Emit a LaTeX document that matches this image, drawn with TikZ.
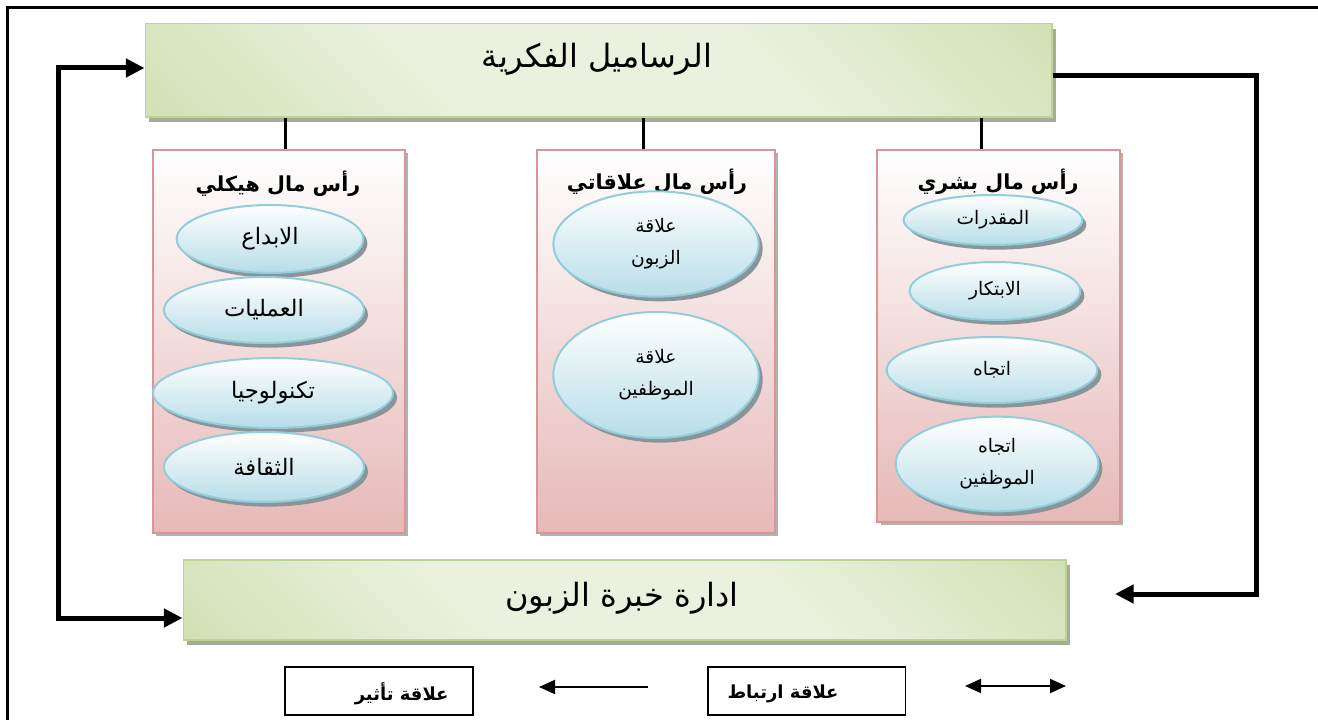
\documentclass[tikz,border=0pt]{standalone}
\usepackage{fontspec}
\newfontfamily\arabicfont[Script=Arabic]{DejaVu Sans}
\TeXXeTstate=1
\usetikzlibrary{shapes.geometric,arrows.meta,shadows,calc}

\definecolor{greendark}{HTML}{C3D69B}
\definecolor{greenlight}{HTML}{EBF1DE}
\definecolor{greenline}{HTML}{BDD392}
\definecolor{greenshadow}{HTML}{A6AC98}
\definecolor{pinkline}{HTML}{D99694}
\definecolor{pinkfill}{HTML}{E6B9B8}
\definecolor{blueline}{HTML}{92CDDC}
\definecolor{bluefill}{HTML}{B7DDE8}
\definecolor{ovalshadow}{HTML}{8A9599}

\pgfdeclareverticalshading{greenband}{100bp}{color(0bp)=(greendark); color(38bp)=(greenlight); color(62bp)=(greenlight); color(100bp)=(greendark)}

\tikzset{every picture/.style={line width=0.75pt}}
\tikzset{
  bigbox/.style={rectangle, draw=greenline, line width=1pt, shading=greenband, shading angle=-45,
    drop shadow={shadow xshift=3pt, shadow yshift=-4pt, fill=greenshadow, opacity=1}},
  bigtext/.style={inner sep=0pt, font=\arabicfont\fontsize{24}{28}\selectfont},
  colbox/.style={rectangle, draw=pinkline, line width=1.5pt, top color=white, bottom color=pinkfill,
    drop shadow={shadow xshift=2.5pt, shadow yshift=-2.5pt, fill=gray!60, opacity=1}},
  coltitle/.style={inner sep=0.75pt, font=\arabicfont\bfseries\fontsize{15.5}{18}\selectfont},
  oval/.style={ellipse, draw=blueline, line width=1.5pt, top color=white, bottom color=bluefill,
    inner sep=0pt, align=center,
    drop shadow={shadow xshift=3pt, shadow yshift=-3.5pt, fill=ovalshadow, opacity=1},
    font=\arabicfont\fontsize{14}{24}\selectfont},
  bigoval/.style={oval, font=\arabicfont\fontsize{17}{24}\selectfont},
  legbox/.style={rectangle, draw, line width=1pt, minimum width=141pt, minimum height=36pt, inner sep=0pt},
  legtext/.style={inner sep=0.75pt, font=\arabicfont\bfseries\fontsize{13.5}{16}\selectfont},
  fat/.style={line width=3.75pt},
  stub/.style={line width=2.25pt},
  thin/.style={line width=1.5pt}
}

\begin{document}
\begin{tikzpicture}[x=0.75pt,y=0.75pt,yscale=-1]
\useasboundingbox (0,0) rectangle (1318,720);

%Frame
\draw [line width=2.25pt]   (1318,8) -- (7,8) -- (7,720) ;

%Rectangle top
\node [bigbox, minimum width=680pt, minimum height=70pt] (fikr) at (598.5,70.5) {};
% Text Node
\node [bigtext] (fikrtext) at (597,59) {\beginR الرساميل الفكرية\endR};
%Rectangle bottom
\node [bigbox, minimum width=662pt, minimum height=60pt] (khibra) at (624.5,600) {};
% Text Node
\node [bigtext] (khibratext) at (622,598) {\beginR ادارة خبرة الزبون\endR};

%Columns
\node [colbox, minimum width=189pt, minimum height=287pt] (hayk) at (279,341.5) {};
\node [colbox, minimum width=178.5pt, minimum height=287pt] (alaq) at (656,341.5) {};
\node [colbox, minimum width=182pt, minimum height=279pt] (bashar) at (998.5,336) {};

% Text Node
\node [coltitle] (haykt) at (278,184) {\beginR رأس مال هيكلي\endR};
\node [coltitle] (alaqt) at (657,182) {\beginR رأس مال علاقاتي\endR};
\node [coltitle] (bashart) at (998,182) {\beginR رأس مال بشري\endR};

%Ellipse
\node [bigoval, minimum width=140pt, minimum height=51pt] (ibda) at (270,239) {\beginR الابداع\endR};
\node [bigoval, minimum width=150pt, minimum height=49.5pt] (amal) at (264,310) {\beginR العمليات\endR};
\node [bigoval, minimum width=180pt, minimum height=52.5pt] (tech) at (273,393) {\beginR تكنولوجيا\endR};
\node [bigoval, minimum width=150pt, minimum height=52.5pt] (thaq) at (264,467) {\beginR الثقافة\endR};

\node [oval, minimum width=154pt, minimum height=79pt] (zab) at (656,244) {\beginR علاقة\endR\\\beginR الزبون\endR};
\node [oval, minimum width=154pt, minimum height=94.5pt] (muw) at (656,375) {\beginR علاقة\endR\\\beginR الموظفين\endR};

\node [oval, minimum width=134pt, minimum height=37.5pt] (qudr) at (993,220) {\beginR المقدرات\endR};
\node [oval, minimum width=128pt, minimum height=43.5pt] (ibtk) at (995,291) {\beginR الابتكار\endR};
\node [oval, minimum width=158pt, minimum height=49.5pt] (itij) at (992,370) {\beginR اتجاه\endR};
\node [oval, minimum width=152pt, minimum height=71pt] (itmw) at (997,464) {\beginR اتجاه\endR\\\beginR الموظفين\endR};

%Straight Lines
\path ([xshift=4.5pt]hayk.north) coordinate (s1) ([xshift=-9.75pt]alaq.north) coordinate (s2) ([xshift=-12.4pt]bashar.north) coordinate (s3);
\draw [stub]   (s1) -- (s1 |- fikr.south) ;
\draw [stub]   (s2) -- (s2 |- fikr.south) ;
\draw [stub]   (s3) -- (s3 |- fikr.south) ;

%Feedback arrows
\coordinate (lt) at (58,68);
\coordinate (lb) at (58,618);
\draw [fat, {Triangle[length=14pt,width=13.5pt]}-{Triangle[length=14pt,width=13.5pt]}]   (fikr.west |- lt) -- (lt) -- (lb) -- (khibra.west |- lb) ;
\coordinate (rt) at (1256,76);
\coordinate (rb) at (1256,594);
\coordinate (rend) at (1115,594);
\draw [fat, -{Triangle[length=14pt,width=13.5pt]}]   (fikr.east |- rt) -- (rt) -- (rb) -- (rend) ;

%Legend
\node [legbox] (tathir) at (379,691) {};
\node [legtext, anchor=east] (tathirt) at (450,694) {\beginR علاقة تأثير\endR};
\node [legbox, minimum width=148pt] (irtibat) at (806.5,691) {};
\node [legtext, anchor=west] (irtibatt) at (726,694) {\beginR علاقة ارتباط\endR};
\coordinate (a1) at (648,687);
\coordinate (a2) at (539,687);
\draw [thin, -{Triangle[length=12pt,width=10.5pt]}]   (a1) -- (a2) ;
\coordinate (b1) at (965,686);
\coordinate (b2) at (1066,686);
\draw [thin, {Triangle[length=12pt,width=10.5pt]}-{Triangle[length=12pt,width=10.5pt]}]   (b1) -- (b2) ;

\end{tikzpicture}
\end{document}
